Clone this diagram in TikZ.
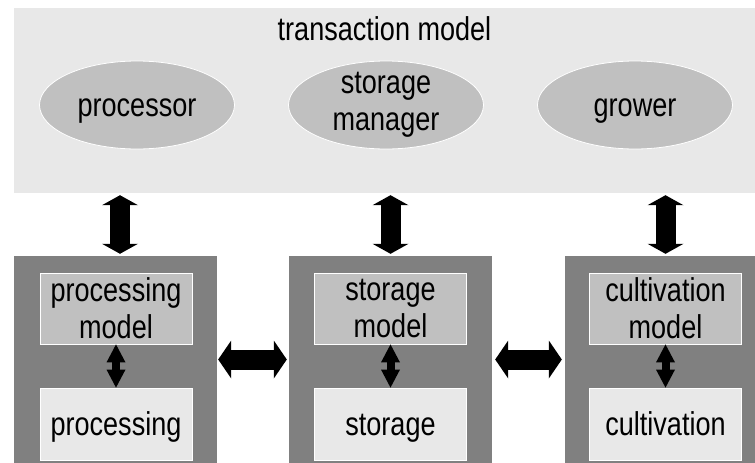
\documentclass[tikz,border=0pt]{standalone}
\usepackage{fontspec}
\setmainfont{Liberation Sans}[FakeStretch=0.82]
\usetikzlibrary{shapes, arrows.meta, positioning}
\definecolor{lightpanel}{HTML}{E8E8E8}
\definecolor{midpanel}{HTML}{C0C0C0}
\definecolor{darkpanel}{HTML}{808080}

\begin{document}
\begin{tikzpicture}[
    x=1pt, y=-1pt,
    % GLOBAL CFG
    font=\fontsize{33}{37}\selectfont,
    % Styles
    model/.style={% For the big transaction box
        rectangle,
        fill=lightpanel,
        inner sep=0pt,
        minimum width=741pt,
        minimum height=185pt,
        },
    actor/.style={% For the actors in the transaction model
        ellipse,
        fill=midpanel,
        draw=white,
        line width=.8pt,
        inner sep=-8pt,
        minimum width=195pt,
        minimum height=88pt,
        align=center,
        },
    unit/.style={% For the dark boxes
        rectangle,
        fill=darkpanel,
        inner sep=0pt,
        minimum height=207pt,
        },
    submodel/.style={% For the models inside a unit
        rectangle,
        fill=midpanel,
        draw=white,
        line width=.8pt,
        inner sep=0pt,
        minimum width=152pt,
        minimum height=71pt,
        align=center,
        },
    process/.style={% For the processes under the models
        rectangle,
        fill=lightpanel,
        draw=white,
        line width=.8pt,
        inner sep=0pt,
        minimum width=152pt,
        minimum height=72pt,
        },
    oneline/.style={% single lines sit like the two line ones
        text height=30pt,
        text depth=7pt,
        },
    ArrowV/.style={% Fat vertical arrows
        line width=20pt,
        arrows={Triangle[width=36pt,length=10pt,line width=0pt]-Triangle[width=36pt,length=10pt,line width=0pt]},
        shorten <=2pt, shorten >=2pt,
        },
    ArrowH/.style={% Fat horizontal arrows
        line width=20pt,
        arrows={Triangle[width=38pt,length=13pt,line width=0pt]-Triangle[width=38pt,length=13pt,line width=0pt]},
        },
    ArrowS/.style={% Small arrows inside a unit
        line width=8pt,
        arrows={Triangle[width=19pt,length=18pt,line width=0pt]-Triangle[width=19pt,length=18pt,line width=0pt]},
        },
    ]

    \useasboundingbox (0,0) rectangle (755,463);

%Start drawing the thing...
    % Draw the transaction model
    \node [model] (trans) at (384.5,100.5) {};
    \node [anchor=base] (title) at (384.5,40) {transaction model};

    % Draw the actors
    \node [actor, oneline] (processor) at (137,105) {processor};
    \node [actor] (manager) at (386,105) {storage\\manager};
    \node [actor, oneline] (grower) at (635,105) {grower};

    % Draw the units
    \node [unit, minimum width=203pt] (punit) at (115.5,359.5) {};
    \node [unit, minimum width=203pt] (sunit) at (390.5,359.5) {};
    \node [unit, minimum width=190pt] (cunit) at (660,359.5) {};

    % Draw the models
    \node [submodel] (pmodel) at (116,308.5) {processing\\model};
    \node [submodel] (smodel) at (390.5,308.5) {storage\\model};
    \node [submodel] (cmodel) at (665.5,308.5) {cultivation\\model};

    % Draw the processes
    \node [process, oneline] (proc) at (116,424) {processing};
    \node [process, oneline] (stor) at (390.5,424) {storage};
    \node [process, oneline] (cult) at (665.5,424) {cultivation};

% Connect all.
    % Transaction model to units
    \draw [ArrowV] ([xshift=4pt]trans.south -| pmodel) -- ([xshift=4pt]punit.north -| pmodel);
    \draw [ArrowV] (trans.south -| smodel) -- (sunit.north -| smodel);
    \draw [ArrowV] (trans.south -| cmodel) -- (cunit.north -| cmodel);

    % Between units
    \draw [ArrowH, shorten <=1pt, shorten >=2pt] (punit.east) -- (sunit.west);
    \draw [ArrowH, shorten <=3pt, shorten >=3pt] (sunit.east) -- (cunit.west);

    % Models to processes
    \draw [ArrowS] (pmodel) -- (proc);
    \draw [ArrowS] (smodel) -- (stor);
    \draw [ArrowS] (cmodel) -- (cult);

\end{tikzpicture}
\end{document}
